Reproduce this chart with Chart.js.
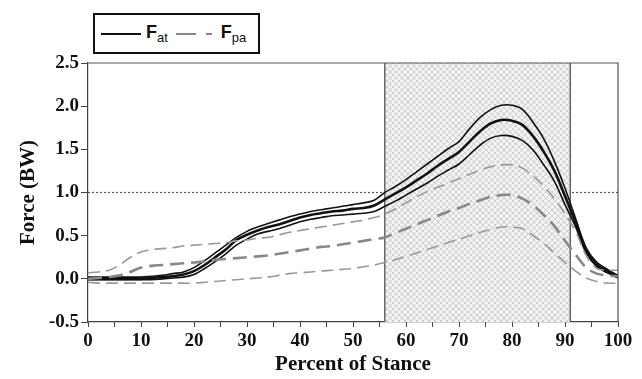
<!DOCTYPE html>
<html>
<head>
<meta charset="utf-8">
<script src="https://cdn.jsdelivr.net/npm/chart.js@4.4.0/dist/chart.umd.min.js"></script>
<style>
  html, body { margin: 0; padding: 0; background: #fff; }
  #wrap { position: relative; width: 642px; height: 379px; }
  #legend {
    position: absolute; left: 93px; top: 13px; width: 157px; height: 37px;
    border: 2px solid #111; background: #fff;
    display: flex; align-items: center; padding-left: 6px;
    font-family: 'Liberation Sans', Arial, sans-serif; color: #111;
  }
  #legend .item { display: flex; align-items: center; margin-right: 8px; }
  #legend .f { font-size: 18px; font-weight: bold; margin-left: 5px; }
  #legend sub { font-size: 13px; font-weight: normal; vertical-align: -4px; }
</style>
</head>
<body>
<div id="wrap">
  <canvas id="chart" width="642" height="379"></canvas>
  <div id="legend">
    <div class="item">
      <svg width="40" height="10"><line x1="0" y1="5" x2="40" y2="5" stroke="#111" stroke-width="2"/></svg>
      <span class="f">F<sub>at</sub></span>
    </div>
    <div class="item">
      <svg width="40" height="10"><line x1="0" y1="5" x2="40" y2="5" stroke="#888" stroke-width="2" stroke-dasharray="20,10,6,4"/></svg>
      <span class="f">F<sub>pa</sub></span>
    </div>
  </div>
</div>
<script>
// percent of stance (x positions of the sampled curves)
const stance = [0, 2, 4, 6, 8, 10, 12, 14, 16, 18, 20, 22, 24, 26, 28, 30, 32, 34, 36, 38, 40,
  42, 44, 46, 48, 50, 52, 54, 56, 58, 60, 62, 64, 66, 68, 70, 72, 74, 76, 78, 80,
  82, 84, 86, 88, 90, 92, 94, 96, 98, 100];

// Achilles tendon force (BW): mean and +/- SD
const fatMean = [0.00, 0.00, 0.00, 0.00, 0.00, 0.00, 0.01, 0.02, 0.03, 0.05, 0.09,
  0.16, 0.25, 0.34, 0.45, 0.51, 0.56, 0.60, 0.63, 0.67, 0.71,
  0.74, 0.76, 0.78, 0.79, 0.81, 0.82, 0.85, 0.92, 0.99, 1.06,
  1.14, 1.22, 1.31, 1.39, 1.47, 1.59, 1.71, 1.80, 1.84, 1.83,
  1.78, 1.65, 1.47, 1.25, 0.96, 0.65, 0.33, 0.16, 0.09, 0.02];
const fatUpper = [0.02, 0.02, 0.02, 0.02, 0.02, 0.02, 0.03, 0.04, 0.06, 0.08, 0.13,
  0.21, 0.30, 0.39, 0.48, 0.55, 0.60, 0.64, 0.68, 0.72, 0.75,
  0.78, 0.80, 0.82, 0.84, 0.86, 0.88, 0.91, 1.00, 1.07, 1.15,
  1.24, 1.33, 1.42, 1.51, 1.59, 1.74, 1.87, 1.96, 2.01, 2.01,
  1.96, 1.81, 1.62, 1.36, 1.05, 0.70, 0.36, 0.19, 0.11, 0.04];
const fatLower = [-0.01, -0.01, -0.01, -0.01, -0.01, -0.01, -0.01, 0.00, 0.01, 0.02, 0.05,
  0.12, 0.20, 0.29, 0.39, 0.46, 0.52, 0.55, 0.58, 0.62, 0.66,
  0.69, 0.71, 0.73, 0.74, 0.75, 0.76, 0.78, 0.84, 0.90, 0.97,
  1.04, 1.11, 1.19, 1.26, 1.33, 1.44, 1.55, 1.63, 1.66, 1.65,
  1.60, 1.49, 1.32, 1.13, 0.86, 0.60, 0.30, 0.14, 0.07, 0.01];

// plantar aponeurosis force (BW): mean and +/- SD
const fpaMean = [0.00, 0.01, 0.02, 0.04, 0.08, 0.13, 0.15, 0.16, 0.17, 0.18, 0.19,
  0.20, 0.22, 0.23, 0.24, 0.25, 0.26, 0.27, 0.29, 0.31, 0.33,
  0.35, 0.37, 0.38, 0.40, 0.42, 0.44, 0.46, 0.48, 0.53, 0.58,
  0.63, 0.68, 0.73, 0.78, 0.82, 0.87, 0.91, 0.95, 0.97, 0.97,
  0.93, 0.85, 0.74, 0.61, 0.44, 0.28, 0.13, 0.06, 0.04, 0.03];
const fpaUpper = [0.07, 0.08, 0.10, 0.16, 0.25, 0.31, 0.34, 0.35, 0.36, 0.38, 0.39,
  0.40, 0.41, 0.42, 0.44, 0.45, 0.47, 0.48, 0.51, 0.54, 0.56,
  0.58, 0.60, 0.62, 0.64, 0.66, 0.68, 0.71, 0.75, 0.81, 0.88,
  0.95, 1.01, 1.06, 1.11, 1.16, 1.21, 1.26, 1.30, 1.32, 1.32,
  1.28, 1.19, 1.07, 0.93, 0.75, 0.55, 0.27, 0.12, 0.10, 0.10];
const fpaLower = [-0.04, -0.05, -0.05, -0.05, -0.05, -0.05, -0.05, -0.05, -0.05, -0.05, -0.05,
  -0.04, -0.03, -0.02, -0.01, 0.00, 0.01, 0.02, 0.04, 0.06, 0.07,
  0.08, 0.09, 0.10, 0.11, 0.12, 0.14, 0.16, 0.19, 0.22, 0.26,
  0.30, 0.34, 0.38, 0.42, 0.46, 0.50, 0.54, 0.57, 0.60, 0.60,
  0.58, 0.50, 0.41, 0.30, 0.19, 0.09, 0.01, -0.03, -0.05, -0.05];

// shaded phase of stance and the 1 BW reference line
const shadedRange = [56, 91];
const refLine = 1.0;

const pts = (ys) => stance.map((x, i) => ({ x: x, y: ys[i] }));

// small cross-hatch tile used to fill the shaded phase
function makeHatch(ctx) {
  const c = document.createElement('canvas');
  c.width = 6;
  c.height = 6;
  const g = c.getContext('2d');
  g.fillStyle = '#f2f2f2';
  g.fillRect(0, 0, 6, 6);
  g.strokeStyle = '#c6c6c6';
  g.lineWidth = 0.8;
  g.beginPath();
  g.moveTo(0, 0); g.lineTo(6, 6);
  g.moveTo(6, 0); g.lineTo(0, 6);
  g.stroke();
  return ctx.createPattern(c, 'repeat');
}

// draws the dotted 1 BW line, the hatched region and the frame
const decorPlugin = {
  id: 'decor',
  beforeDatasetsDraw(chart) {
    const { ctx, chartArea: a, scales } = chart;
    const yRef = scales.y.getPixelForValue(refLine);
    ctx.save();
    ctx.strokeStyle = '#555';
    ctx.lineWidth = 1.2;
    ctx.setLineDash([2, 2]);
    ctx.beginPath();
    ctx.moveTo(a.left, yRef);
    ctx.lineTo(a.right, yRef);
    ctx.stroke();
    ctx.setLineDash([]);

    const x0 = scales.x.getPixelForValue(shadedRange[0]);
    const x1 = scales.x.getPixelForValue(shadedRange[1]);
    ctx.fillStyle = makeHatch(ctx);
    ctx.fillRect(x0, a.top, x1 - x0, a.bottom - a.top);
    ctx.strokeStyle = '#666';
    ctx.lineWidth = 1.5;
    ctx.beginPath();
    ctx.moveTo(x0, a.top); ctx.lineTo(x0, a.bottom);
    ctx.moveTo(x1, a.top); ctx.lineTo(x1, a.bottom);
    ctx.stroke();
    ctx.restore();
  },
  afterDraw(chart) {
    const { ctx, chartArea: a } = chart;
    ctx.save();
    ctx.strokeStyle = '#555';
    ctx.lineWidth = 1.2;
    ctx.beginPath();
    ctx.moveTo(a.left, a.top); ctx.lineTo(a.right, a.top); ctx.lineTo(a.right, a.bottom);
    ctx.stroke();
    ctx.restore();
  },
};

function dashed(data, width, color, dash) {
  return {
    data: pts(data), borderColor: color, borderWidth: width, borderDash: dash,
    pointRadius: 0, tension: 0.35, fill: false,
  };
}

function solid(data, width) {
  return {
    data: pts(data), borderColor: '#111', borderWidth: width,
    pointRadius: 0, tension: 0.35, fill: false,
  };
}

const tickFont = { family: 'Liberation Serif', size: 19, weight: 'bold' };
const titleFont = { family: 'Liberation Serif', size: 21, weight: 'bold' };

new Chart(document.getElementById('chart'), {
  type: 'line',
  data: {
    datasets: [
      dashed(fpaUpper, 1.6, '#9a9a9a', [12, 6]),
      dashed(fpaLower, 1.6, '#9a9a9a', [12, 6]),
      dashed(fpaMean, 2.6, '#888', [14, 7]),
      solid(fatUpper, 1.6),
      solid(fatLower, 1.6),
      solid(fatMean, 2.6),
    ],
  },
  options: {
    responsive: false,
    animation: false,
    layout: { padding: { top: 63, right: 24, left: 0, bottom: 0 } },
    plugins: { legend: { display: false }, tooltip: { enabled: false } },
    scales: {
      x: {
        type: 'linear', min: 0, max: 100,
        afterFit: (s) => { s.height = 57; },
        grid: { drawOnChartArea: false, tickLength: 5, color: '#444' },
        border: { color: '#444', width: 1.2 },
        ticks: {
          stepSize: 5, autoSkip: false, maxRotation: 0, padding: 3,
          color: '#111', font: tickFont,
          callback: (v) => (v % 10 === 0 ? v : ''),
        },
        title: { display: true, text: 'Percent of Stance', color: '#111', font: titleFont, padding: { top: 0, bottom: 2 } },
      },
      y: {
        min: -0.5, max: 2.5,
        afterFit: (s) => { s.width = 88; },
        grid: { drawOnChartArea: false, tickLength: 7, color: '#444' },
        border: { color: '#444', width: 1.2 },
        ticks: {
          stepSize: 0.5, padding: 2, color: '#111', font: tickFont,
          callback: (v) => v.toFixed(1),
        },
        title: { display: true, text: 'Force (BW)', color: '#111', font: titleFont, padding: { bottom: 0, top: 16 } },
      },
    },
  },
  plugins: [decorPlugin],
});
</script>
</body>
</html>
